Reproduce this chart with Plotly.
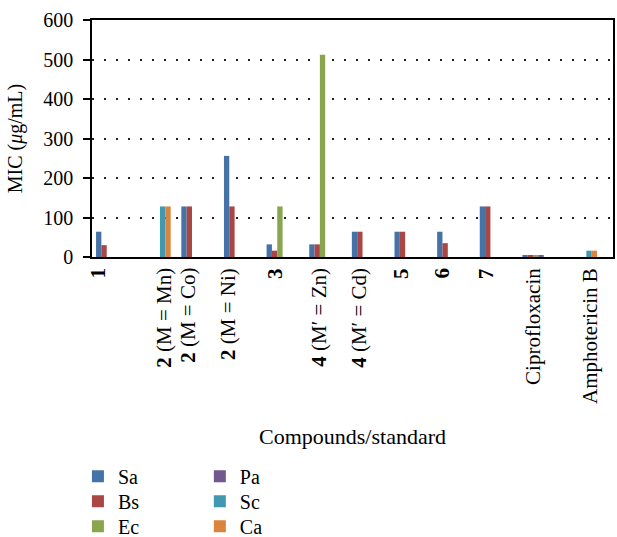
import plotly.graph_objects as go

# Compounds / standards along the x axis
categories = ["1", "2 (M = Mn)", "2 (M = Co)", "2 (M = Ni)", "3",
              "4 (M′ = Zn)", "4 (M′ = Cd)", "5", "6", "7",
              "Ciprofloxacin", "Amphotericin B"]
# Rich-text versions of the category labels (compound numbers in bold)
category_labels = ["<b>1</b>", "<b>2</b> (M = Mn)", "<b>2</b> (M = Co)", "<b>2</b> (M = Ni)",
                   "<b>3</b>", "<b>4</b> (M′ = Zn)", "<b>4</b> (M′ = Cd)", "<b>5</b>",
                   "<b>6</b>", "<b>7</b>", "Ciprofloxacin", "Amphotericin B"]

# MIC values (µg/mL) per organism; None = not tested
sa = [64, None, 128, 256, 32, 32, 64, 64, 64, 128, 4, None]
bs = [30, None, 128, 128, 16, 32, 64, 64, 35, 128, 4, None]
ec = [None, None, None, None, 128, 512, None, None, None, None, 4, None]
pa = [None, None, None, None, None, None, None, None, None, None, 4, None]
sc = [None, 128, None, None, None, None, None, None, None, None, None, 16]
ca = [None, 128, None, None, None, None, None, None, None, None, None, 16]

series_names = ["Sa", "Bs", "Ec", "Pa", "Sc", "Ca"]
series_values = [sa, bs, ec, pa, sc, ca]
series_colors = ["#4572A7", "#AA4643", "#89A54E", "#71588F", "#4198AF", "#DB843D"]

FONT = "Liberation Serif"

# Legend layout: two columns of three entries, one legend box per entry
legend_ids = ["legend", "legend2", "legend3", "legend4", "legend5", "legend6"]
legend_x = [-0.027, -0.027, -0.027, 0.207, 0.207, 0.207]
legend_y = [-0.843, -0.948, -1.054, -0.843, -0.948, -1.054]

fig = go.Figure()
for name, vals, color, lg in zip(series_names, series_values, series_colors, legend_ids):
    fig.add_trace(go.Bar(name=name, x=categories, y=vals, marker_color=color,
                         marker_line_width=0, legend=lg, showlegend=True))

# Horizontal nudges (px) of the rotated category labels
label_shift = [-15, 9, -10, -12, -8, -7, -9, -10, -12, -10, -6, 9]

for i, (lab, dx) in enumerate(zip(category_labels, label_shift)):
    fig.add_annotation(x=i, xref="x", y=0, yref="paper", yshift=-9,
                       text=lab, textangle=-90, showarrow=False,
                       xanchor="center", yanchor="top", xshift=dx,
                       font=dict(family=FONT, size=21, color="black"))

legend_layout = {}
for lg, lx, ly in zip(legend_ids, legend_x, legend_y):
    legend_layout[lg] = dict(x=lx, y=ly, xanchor="left", yanchor="top", visible=True,
                             font=dict(family=FONT, size=20, color="black"),
                             bgcolor="rgba(0,0,0,0)")

fig.update_layout(
    width=617, height=537,
    margin=dict(l=92, r=4, t=20, b=280, autoexpand=False),
    paper_bgcolor="white", plot_bgcolor="white",
    font=dict(family=FONT, size=20, color="black"),
    barmode="group", bargap=0.25, bargroupgap=0,
    showlegend=True,
    **legend_layout,
)

fig.update_xaxes(type="category", range=[-0.47, 11.75],
                 showticklabels=False, ticks="", automargin=False,
                 showline=True, linecolor="black", linewidth=2, mirror=True,
                 showgrid=False,
                 title=dict(text="Compounds/standard", standoff=171,
                            font=dict(family=FONT, size=22)))
fig.update_yaxes(range=[0, 600], dtick=100, ticks="outside", ticklen=7,
                 tickcolor="black", tickwidth=1.5, automargin=False,
                 showline=True, linecolor="black", linewidth=1.5, mirror=True,
                 showgrid=True, gridcolor="#222", gridwidth=1.5, griddash="2px,10px",
                 zeroline=False, ticklabelstandoff=6,
                 title=dict(text="MIC (<i>μ</i>g/mL)", font=dict(family=FONT, size=20)))

fig.write_html("out.html")
